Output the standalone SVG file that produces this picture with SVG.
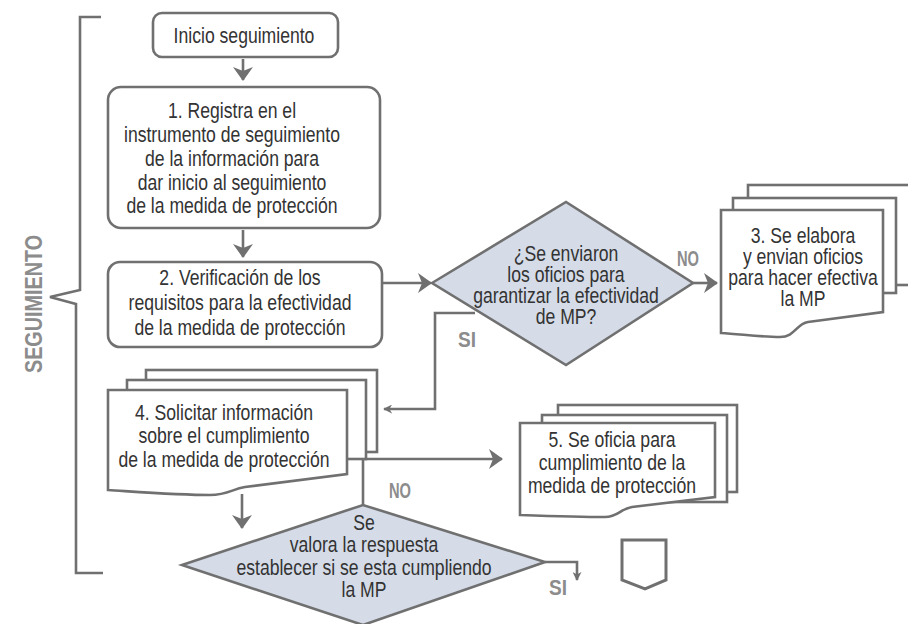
<svg xmlns="http://www.w3.org/2000/svg" width="908" height="624" viewBox="0 0 908 624">
<style>
.s{fill:#fff;stroke:#707070;stroke-width:2.6}
.d{fill:#d5dce8;stroke:#707070;stroke-width:2.6}
.c{fill:none;stroke:#707070;stroke-width:2.6}
.t{font-family:"Liberation Sans",Arial,sans-serif;font-size:22px;fill:#333;text-anchor:middle}
.l{font-family:"Liberation Sans",Arial,sans-serif;font-size:22px;font-weight:bold;fill:#8c8c8c;text-anchor:middle}
</style>
<defs>
<marker id="a" viewBox="0 0 14 20" refX="13" refY="10" markerWidth="14" markerHeight="20" markerUnits="userSpaceOnUse" orient="auto">
<path d="M0,0 L14,10 L0,20 L4,10 Z" fill="#707070"/>
</marker>
<marker id="b" viewBox="0 0 10 10" refX="9" refY="5" markerWidth="9" markerHeight="9" markerUnits="userSpaceOnUse" orient="auto">
<path d="M0,0 L10,5 L0,10 L3,5 Z" fill="#707070"/>
</marker>
</defs>
<g id="bracket">
<path class="c" d="M101,17 H80 V290 L50,297 L76,304 V573 H103"/>
<text transform="translate(42,304) rotate(-90)" class="l" style="font-size:24px" textLength="138" lengthAdjust="spacingAndGlyphs">SEGUIMIENTO</text>
</g>
<g id="connectors">
<path class="c" d="M243,59 V80" marker-end="url(#a)"/>
<path class="c" d="M243,230 V257" marker-end="url(#a)"/>
<path class="c" d="M382,283 H431" marker-end="url(#a)"/>
<path class="c" d="M693,283 H717" marker-end="url(#a)"/>
<path class="c" d="M475,313 H435 V409 H384" marker-end="url(#b)"/>
<path class="c" d="M242,494 V528" marker-end="url(#a)"/>
<path class="c" d="M363,505 V459 H502" marker-end="url(#a)"/>
<path class="c" d="M545,562 H577 V580" marker-end="url(#b)"/>
</g>
<g id="inicio">
<rect class="s" x="153" y="13" width="185" height="44" rx="9"/>
<g transform="translate(244,0) scale(0.8,1)">
<text class="t" x="0" y="43">Inicio seguimiento</text>
</g>
</g>
<g id="paso1">
<rect class="s" x="108" y="87" width="272" height="141" rx="13"/>
<g transform="translate(232,0) scale(0.8,1)">
<text class="t" x="0" y="118">1. Registra en el</text>
<text class="t" x="0" y="142">instrumento de seguimiento</text>
<text class="t" x="0" y="166">de la información para</text>
<text class="t" x="0" y="190">dar inicio al seguimiento</text>
<text class="t" x="0" y="213">de la medida de protección</text>
</g>
</g>
<g id="paso2">
<rect class="s" x="108" y="262" width="274" height="85" rx="12"/>
<g transform="translate(240,0) scale(0.8,1)">
<text class="t" x="0" y="285">2. Verificación de los</text>
<text class="t" x="0" y="310">requisitos para la efectividad</text>
<text class="t" x="0" y="335">de la medida de protección</text>
</g>
</g>
<g id="decision1">
<polygon class="d" points="432,283 566,202 693,283 566,365"/>
<g transform="translate(566,0) scale(0.8,1)">
<text class="t" x="0" y="261">¿Se enviaron</text>
<text class="t" x="0" y="282">los oficios para</text>
<text class="t" x="0" y="303">garantizar la efectividad</text>
<text class="t" x="0" y="324">de MP?</text>
</g>
<text class="l" x="688" y="266" textLength="22" lengthAdjust="spacingAndGlyphs">NO</text>
<text class="l" x="467" y="347" textLength="18" lengthAdjust="spacingAndGlyphs">SI</text>
</g>
<g id="paso3">
<rect class="s" x="748" y="185" width="170" height="100"/>
<rect class="s" x="733" y="198" width="163" height="95"/>
<path class="s" d="M721,210 H883 V312 L808,322 C796,324 795,337 780,337 C760,337 740,334 721,333 Z"/>
<g transform="translate(803,0) scale(0.8,1)">
<text class="t" x="0" y="243">3. Se elabora</text>
<text class="t" x="0" y="264">y envian oficios</text>
<text class="t" x="0" y="285">para hacer efectiva</text>
<text class="t" x="0" y="306">la MP</text>
</g>
</g>
<g id="paso4">
<rect class="s" x="146" y="370" width="231" height="82"/>
<rect class="s" x="127" y="380" width="239" height="79"/>
<path class="s" d="M108,390 H347 V474 L245,487 C232,489 228,495 210,495 C180,495 140,492 108,490 Z"/>
<g transform="translate(224,0) scale(0.8,1)">
<text class="t" x="0" y="420">4. Solicitar información</text>
<text class="t" x="0" y="443">sobre el cumplimiento</text>
<text class="t" x="0" y="467">de la medida de protección</text>
</g>
</g>
<g id="paso5">
<rect class="s" x="558" y="405" width="179" height="87"/>
<rect class="s" x="542" y="415" width="185" height="87"/>
<path class="s" d="M520,423 H715 V497 L632,507 C620,509 618,517 605,517 C580,517 550,516 520,515 Z"/>
<g transform="translate(612,0) scale(0.8,1)">
<text class="t" x="0" y="447">5. Se oficia para</text>
<text class="t" x="0" y="470">cumplimiento de la</text>
<text class="t" x="0" y="493">medida de protección</text>
</g>
</g>
<g id="decision2">
<polygon class="d" points="182,565 363,505 545,562 363,625"/>
<g transform="translate(364,0) scale(0.8,1)">
<text class="t" x="0" y="530">Se</text>
<text class="t" x="0" y="552">valora la respuesta</text>
<text class="t" x="0" y="575">establecer si se esta cumpliendo</text>
<text class="t" x="0" y="597">la MP</text>
</g>
<text class="l" x="400" y="498" textLength="22" lengthAdjust="spacingAndGlyphs">NO</text>
<text class="l" x="558" y="595" textLength="18" lengthAdjust="spacingAndGlyphs">SI</text>
</g>
<g id="conector">
<path class="s" d="M622,540 H666 V580 L645,589 L622,580 Z" style="stroke-width:3"/>
</g>
</svg>
